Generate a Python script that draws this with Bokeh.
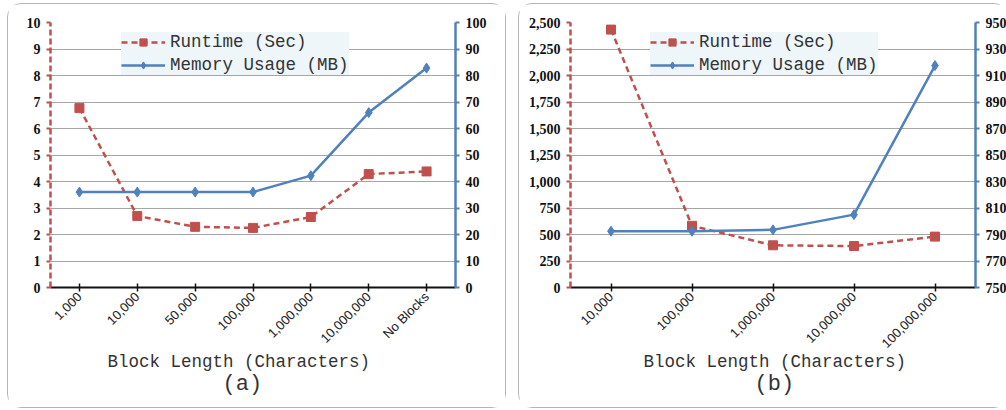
import math
from bokeh.plotting import figure
from bokeh.layouts import row
from bokeh.models import (Range1d, FactorRange, LinearAxis, FixedTicker, NumeralTickFormatter,
                          Legend, LegendItem, Title)
from bokeh.embed import file_html
from bokeh.resources import INLINE

# ---- data ----
cats_a = ["1,000", "10,000", "50,000", "100,000", "1,000,000", "10,000,000", "No Blocks"]
runtime_a = [6.77, 2.70, 2.29, 2.25, 2.66, 4.28, 4.38]
memory_a = [36, 36, 36, 36, 42.2, 66, 82.8]

cats_b = ["10,000", "100,000", "1,000,000", "10,000,000", "100,000,000"]
runtime_b = [2433, 582, 398, 391, 480]
memory_b = [792.5, 792.5, 793.5, 805, 917.5]

left_ticks_a = [0, 1, 2, 3, 4, 5, 6, 7, 8, 9, 10]
right_ticks_a = [0, 10, 20, 30, 40, 50, 60, 70, 80, 90, 100]
left_ticks_b = [0, 250, 500, 750, 1000, 1250, 1500, 1750, 2000, 2250, 2500]
right_ticks_b = [750, 770, 790, 810, 830, 850, 870, 890, 910, 930, 950]

x_title = "Block Length (Characters)"

RED = "#c0504d"
BLUE = "#4f81bd"
MONO = "Liberation Mono"
FRAME_H = 263


def make_panel(cats, runtime, memory, lticks, rticks, tag, mbl, mbr, legend_x,
               xt_off, tag_off):
    p = figure(frame_width=403, frame_height=FRAME_H, x_range=FactorRange(*cats),
               y_range=Range1d(lticks[0], lticks[-1]),
               output_backend="svg", toolbar_location=None,
               min_border_left=mbl, min_border_right=mbr, min_border_top=18,
               min_border_bottom=122,
               styles={"border": "1px solid #b5b5b5", "border-radius": "14px"})
    p.extra_y_ranges = {"mem": Range1d(rticks[0], rticks[-1])}
    p.outline_line_color = None
    p.xgrid.grid_line_color = None
    p.ygrid.grid_line_color = "#a6a6a6"
    p.ygrid.grid_line_width = 1
    p.ygrid.ticker = FixedTicker(ticks=lticks)

    # left axis (runtime)
    ya = p.yaxis[0]
    ya.ticker = FixedTicker(ticks=lticks)
    ya.formatter = NumeralTickFormatter(format="0,0")
    ya.axis_line_color = RED
    ya.axis_line_width = 2.5
    ya.axis_line_dash = "6 3"
    ya.major_tick_line_color = RED
    ya.major_tick_line_width = 2
    ya.major_tick_out = 4
    ya.major_tick_in = 0
    ya.minor_tick_line_color = None
    ya.major_label_text_font = "Liberation Serif"
    ya.major_label_text_font_style = "bold"
    ya.major_label_text_font_size = "14px"
    ya.major_label_text_color = "#111111"
    ya.major_label_standoff = 6

    # right axis (memory)
    ra = LinearAxis(y_range_name="mem", ticker=FixedTicker(ticks=rticks))
    ra.axis_line_color = BLUE
    ra.axis_line_width = 2.5
    ra.major_tick_line_color = BLUE
    ra.major_tick_line_width = 2
    ra.major_tick_out = 4
    ra.major_tick_in = 0
    ra.minor_tick_line_color = None
    ra.major_label_text_font = "Liberation Serif"
    ra.major_label_text_font_style = "bold"
    ra.major_label_text_font_size = "14px"
    ra.major_label_text_color = "#111111"
    ra.major_label_standoff = 6
    p.add_layout(ra, "right")

    # x axis
    xa = p.xaxis[0]
    xa.axis_line_color = "#111111"
    xa.axis_line_width = 2
    xa.major_tick_line_color = "#111111"
    xa.major_tick_line_width = 1.5
    xa.major_tick_in = 4
    xa.major_tick_out = 4
    xa.major_label_orientation = math.pi / 4
    xa.major_label_text_font = "Liberation Sans"
    xa.major_label_text_font_size = "13px"
    xa.major_label_text_color = "#222222"
    xa.major_label_standoff = 3

    p.add_layout(Title(text=x_title, align="left", offset=xt_off, text_font=MONO,
                       text_font_size="17.5px", text_font_style="normal",
                       text_color="#333333", standoff=-9), "below")
    p.add_layout(Title(text=tag, align="left", offset=tag_off, text_font=MONO,
                       text_font_size="22px", text_font_style="normal",
                       text_color="#333333", standoff=5), "below")

    rl = p.line(cats, runtime, line_color=RED, line_width=2.5, line_dash="6 4")
    rs = p.scatter(cats, runtime, marker="square", size=9, fill_color=RED, line_color=RED)
    ml = p.line(cats, memory, line_color=BLUE, line_width=2.5, y_range_name="mem")
    ms = p.scatter(cats, memory, marker="diamond", size=10, fill_color=BLUE, line_color=BLUE,
                   y_range_name="mem")

    leg = Legend(items=[LegendItem(label="Runtime (Sec)", renderers=[rl, rs]),
                        LegendItem(label="Memory Usage (MB)", renderers=[ml, ms])],
                 location=(legend_x, FRAME_H - 51))
    leg.background_fill_color = "#eef6fa"
    leg.background_fill_alpha = 1
    leg.border_line_color = None
    leg.label_text_font = MONO
    leg.label_text_font_size = "17.5px"
    leg.label_text_color = "#333333"
    leg.glyph_width = 44
    leg.glyph_height = 18
    leg.label_height = 18
    leg.spacing = 3
    leg.padding = 5
    leg.margin = 0
    leg.label_standoff = 5
    p.add_layout(leg, "center")
    return p


pa = make_panel(cats_a, runtime_a, memory_a, left_ticks_a, right_ticks_a, "(a)", 42, 52, 71,
                57, 172)
pb = make_panel(cats_b, runtime_b, memory_b, left_ticks_b, right_ticks_b, "(b)", 51, 30, 80,
                73, 184)

layout = row(pa, pb, spacing=12, styles={"margin-left": "7px", "margin-top": "3px"})
open("out.html", "w").write(file_html(layout, INLINE))
